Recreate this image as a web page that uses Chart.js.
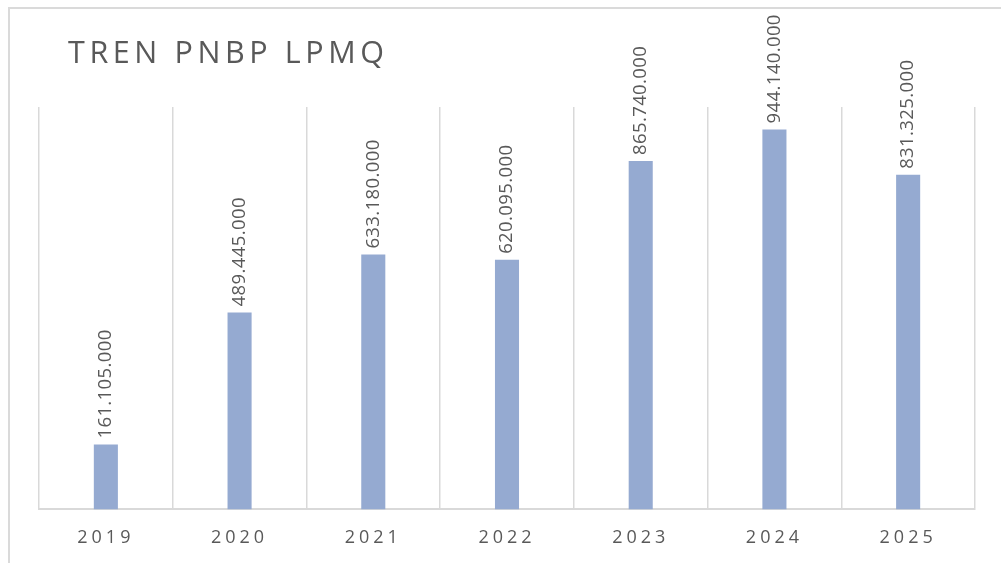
<!DOCTYPE html>
<html>
<head>
<meta charset="utf-8">
<script src="https://cdn.jsdelivr.net/npm/chart.js@4.4.1/dist/chart.umd.min.js"></script>
<style>
  html, body { margin: 0; padding: 0; background: #fff; }
  #wrap { position: relative; width: 1001px; height: 563px; overflow: hidden; }
  #frame {
    position: absolute; left: 8px; top: 7px; width: 1000px; height: 600px;
    border-left: 2px solid #dadada; border-top: 2px solid #dadada;
    pointer-events: none;
  }
</style>
</head>
<body>
<div id="wrap">
  <canvas id="pnbpChart" width="1001" height="563"></canvas>
  <div id="frame"></div>
</div>
<script>
// Data
const chartTitle = 'TREN PNBP LPMQ';
const years = ['2019', '2020', '2021', '2022', '2023', '2024', '2025'];
const pnbpValues = [161105000, 489445000, 633180000, 620095000, 865740000, 944140000, 831325000];
const axisMax = 1000000000;

const textGrey = '#595959';

// Format numbers with dots as thousands separators (e.g. 161.105.000)
function formatDots(v) {
    return String(v).replace(/\B(?=(\d{3})+(?!\d))/g, '.');
}

// Spaced-out title, drawn at the top left
const titlePlugin = {
    id: 'spacedTitle',
    beforeDraw(chart) {
        const ctx = chart.ctx;
        ctx.save();
        ctx.letterSpacing = '4.6px';
        ctx.font = '30.5px "Open Sans"';
        ctx.fillStyle = textGrey;
        ctx.textAlign = 'left';
        ctx.textBaseline = 'alphabetic';
        ctx.fillText(chartTitle, 68, 63);
        ctx.restore();
        // tick labels on the x axis are also letter-spaced
        ctx.letterSpacing = '4px';
    },
    beforeDatasetsDraw(chart) {
        chart.ctx.letterSpacing = '0px';
    }
};

// Rotated value labels above each bar
const valueLabels = {
    id: 'valueLabels',
    afterDatasetsDraw(chart) {
        const ctx = chart.ctx;
        const meta = chart.getDatasetMeta(0);
        ctx.save();
        ctx.letterSpacing = '0.4px';
        ctx.font = '18.5px "Open Sans"';
        ctx.fillStyle = textGrey;
        ctx.textAlign = 'left';
        ctx.textBaseline = 'middle';
        meta.data.forEach((bar, i) => {
            ctx.save();
            ctx.translate(bar.x, bar.y - 6);
            ctx.rotate(-Math.PI / 2);
            ctx.fillText(formatDots(pnbpValues[i]), 0, 0);
            ctx.restore();
        });
        ctx.restore();
    }
};

const ctx = document.getElementById('pnbpChart').getContext('2d');

new Chart(ctx, {
    type: 'bar',
    data: {
        labels: years,
        datasets: [{
            data: pnbpValues,
            backgroundColor: '#95aad1',
            borderWidth: 0,
            categoryPercentage: 1,
            barPercentage: 0.18
        }]
    },
    options: {
        responsive: false,
        animation: false,
        layout: {
            padding: { top: 107, right: 26, bottom: -4, left: 39 }
        },
        plugins: {
            legend: { display: false },
            tooltip: { enabled: false },
            title: { display: false }
        },
        scales: {
            x: {
                grid: {
                    color: '#d9d9d9',
                    lineWidth: 1.5,
                    drawTicks: false,
                    offset: true
                },
                border: { color: '#d9d9d9', width: 2 },
                ticks: {
                    color: textGrey,
                    font: { family: 'Open Sans', size: 18 },
                    padding: 18,
                    maxRotation: 0
                }
            },
            y: {
                display: false,
                min: 0,
                max: axisMax
            }
        }
    },
    plugins: [titlePlugin, valueLabels]
});
</script>
</body>
</html>
